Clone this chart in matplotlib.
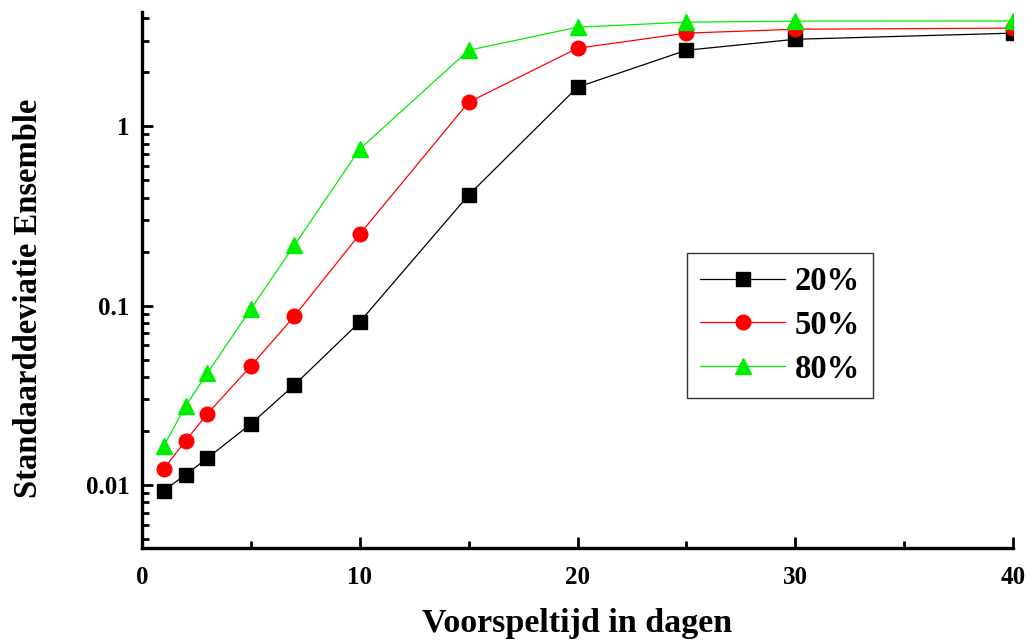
import numpy as np
import matplotlib.pyplot as plt
from matplotlib.ticker import FixedLocator, FuncFormatter, LogLocator, NullFormatter

plt.rcParams['font.family'] = ['Liberation Serif', 'DejaVu Serif']
plt.rcParams['font.weight'] = 'bold'

dagen = np.array([1, 2, 3, 5, 7, 10, 15, 20, 25, 30, 40])
s20 = np.array([0.0093, 0.0114, 0.0141, 0.0219, 0.0361, 0.081, 0.413, 1.65, 2.65, 3.05, 3.30])
s50 = np.array([0.0123, 0.0176, 0.0249, 0.046, 0.0874, 0.25, 1.36, 2.72, 3.30, 3.47, 3.52])
s80 = np.array([0.0165, 0.0275, 0.042, 0.0957, 0.217, 0.745, 2.65, 3.56, 3.80, 3.85, 3.86])

fig = plt.figure(figsize=(10.29, 6.4), dpi=100)
ax = fig.add_axes([0.138, 0.144, 0.8465, 0.837])

ax.plot(dagen, s20, color='black', lw=0.9, marker='s', ms=9.5, label='20%')
ax.plot(dagen, s50, color='red', lw=0.9, marker='o', ms=10.5, label='50%')
ax.plot(dagen, s80, color='#00ee00', lw=0.9, marker='^', ms=11, label='80%')

ax.set_yscale('log')
ax.set_xlim(0, 40)
ax.set_ylim(0.00446, 4.32)

ax.xaxis.set_major_locator(FixedLocator([0, 10, 20, 30, 40]))
ax.xaxis.set_minor_locator(FixedLocator([5, 15, 25, 35]))
ax.yaxis.set_major_locator(FixedLocator([0.01, 0.1, 1]))
ax.yaxis.set_major_formatter(FuncFormatter(lambda v, p: '%g' % v))
ax.yaxis.set_minor_locator(LogLocator(base=10, subs=np.arange(2, 10)))
ax.yaxis.set_minor_formatter(NullFormatter())

for s in ['top', 'right']:
    ax.spines[s].set_visible(False)
for s in ['left', 'bottom']:
    ax.spines[s].set_linewidth(2.4)

ax.tick_params(which='major', direction='in', length=8, width=2, labelsize=18)
ax.tick_params(which='minor', direction='in', length=5, width=2)
ax.tick_params(axis='x', which='major', pad=13)
ax.tick_params(axis='y', which='major', pad=9)
for lab in ax.get_xticklabels() + ax.get_yticklabels():
    lab.set_fontweight('bold')

ax.set_xlabel('Voorspeltijd in dagen', fontsize=24.5, fontweight='bold', labelpad=14)
ax.set_ylabel('Standaarddeviatie Ensemble', fontsize=23.5, fontweight='bold', labelpad=30)
ax.yaxis.label.set_y(0.466)

leg = ax.legend(loc='upper left', bbox_to_anchor=(0.6257, 0.5504), fontsize=23.5,
                frameon=True, fancybox=False, edgecolor='black', handlelength=2.6,
                borderpad=0.4, labelspacing=0.39, handletextpad=0.3,
                borderaxespad=0)
leg.get_frame().set_linewidth(1.0)
for t in leg.get_texts():
    t.set_fontweight('bold')

fig.savefig('out.png', dpi=100)
